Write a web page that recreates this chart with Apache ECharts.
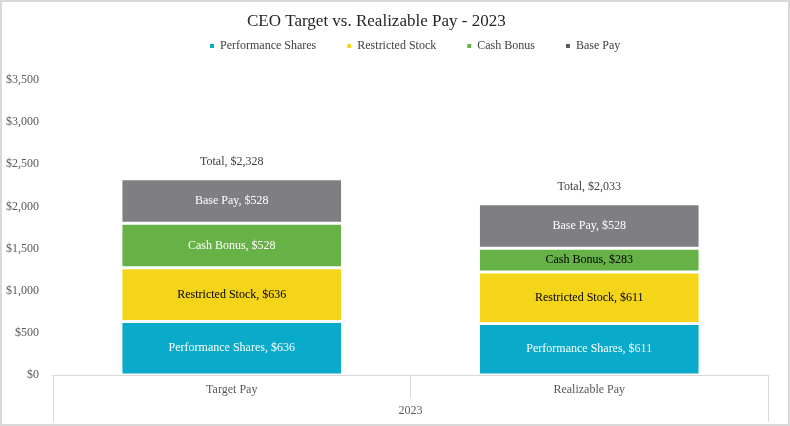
<!DOCTYPE html>
<html>
<head>
<meta charset="utf-8">
<script src="https://cdn.jsdelivr.net/npm/echarts@6/dist/echarts.min.js"></script>
<style>
html,body{margin:0;padding:0;background:#fff;}
#c{width:790px;height:426px;}
</style>
</head>
<body>
<div id="c"></div>
<script>
const categories = ['Target Pay', 'Realizable Pay'];
const groupLabels = ['2023'];
const performanceShares = [636, 611];
const restrictedStock = [636, 611];
const cashBonus = [528, 283];
const basePay = [528, 528];
const totals = [2328, 2033];
const yTicks = [0, 500, 1000, 1500, 2000, 2500, 3000, 3500];

const FONT = '"Liberation Serif", "Times New Roman", serif';
const chart = echarts.init(document.getElementById('c'));
const fmt = v => '$' + Number(v).toLocaleString('en-US');

function seg(name, data, color, labelColors) {
  return {
    name: name,
    type: 'bar',
    stack: 'pay',
    barWidth: '62%',
    itemStyle: { color: color, borderColor: '#fff', borderWidth: 1.5 },
    label: {
      show: true, position: 'inside', fontFamily: FONT, fontSize: 12,
      formatter: p => name + ', ' + fmt(p.value)
    },
    data: data.map((v, i) => ({ value: v, label: { color: labelColors[i] } }))
  };
}

chart.setOption({
  animation: false,
  backgroundColor: '#fff',
  textStyle: { fontFamily: FONT },
  title: {
    text: 'CEO Target vs. Realizable Pay - 2023',
    left: 242, top: 8,
    textStyle: { fontFamily: FONT, fontSize: 17, fontWeight: 'normal', color: '#262626' }
  },
  legend: {
    data: ['Performance Shares', { name: 'Restricted Stock' }, { name: 'Cash Bonus' }, { name: 'Base Pay', itemStyle: { color: '#595959' } }],
    left: 203, top: 35,
    icon: 'rect', itemWidth: 6, itemHeight: 6, itemGap: 29,
    textStyle: { fontFamily: FONT, fontSize: 12, color: '#404040' }
  },
  grid: { left: 53, right: 22, top: 80, bottom: 51, containLabel: false },
  xAxis: [{
    type: 'category',
    data: categories,
    position: 'bottom',
    axisLine: { show: true, lineStyle: { color: '#d9d9d9', width: 1 } },
    axisTick: { show: true, length: 23, lineStyle: { color: '#d9d9d9' } },
    axisLabel: { margin: 9, fontFamily: FONT, fontSize: 12, color: '#595959' }
  }, {
    type: 'category',
    data: groupLabels,
    position: 'bottom',
    offset: 0,
    axisLine: { show: false },
    axisTick: { show: true, length: 47, lineStyle: { color: '#d9d9d9' } },
    axisLabel: { margin: 30, fontFamily: FONT, fontSize: 12, color: '#595959' }
  }],
  yAxis: {
    type: 'value',
    min: yTicks[0], max: yTicks[yTicks.length - 1], interval: 500,
    axisLine: { show: false }, axisTick: { show: false },
    splitLine: { show: false },
    axisLabel: { margin: 14, fontFamily: FONT, fontSize: 12, color: '#595959', formatter: fmt }
  },
  graphic: [{
    type: 'rect', silent: true,
    shape: { x: 1, y: 1, width: 788, height: 424 },
    style: { fill: 'none', stroke: '#d9d9d9', lineWidth: 2 }
  }],
  series: [
    seg('Performance Shares', performanceShares, '#0aabca', ['#fff', '#fff']),
    seg('Restricted Stock', restrictedStock, '#f5d51a', ['#000', '#000']),
    seg('Cash Bonus', cashBonus, '#67b246', ['#fff', '#000']),
    seg('Base Pay', basePay, '#7f7f83', ['#fff', '#fff']),
    {
      name: 'Total', type: 'bar', stack: 'pay', barWidth: '62%',
      itemStyle: { color: 'transparent' },
      label: {
        show: true, position: 'top', distance: 11, fontFamily: FONT, fontSize: 12, color: '#404040',
        formatter: p => 'Total, ' + fmt(totals[p.dataIndex])
      },
      data: totals.map(() => 0)
    }
  ]
});
</script>
</body>
</html>
